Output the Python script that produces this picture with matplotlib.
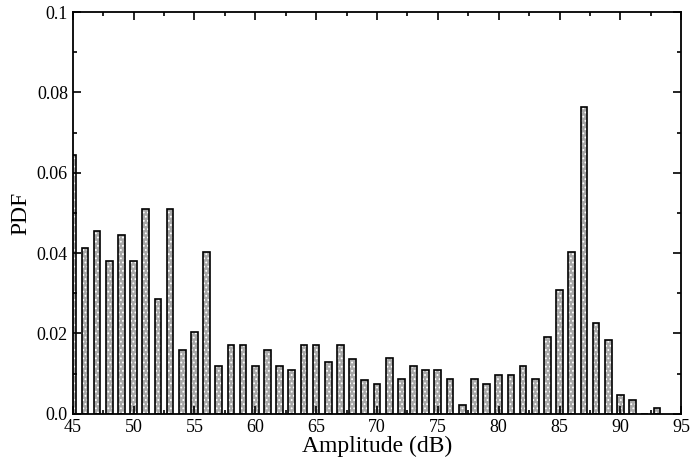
import matplotlib.pyplot as plt
from matplotlib.ticker import MultipleLocator

amplitude = list(range(45, 94))
pdf = [0.0644, 0.0413, 0.0454, 0.0381, 0.0446, 0.0381, 0.0509, 0.0286, 0.0509, 0.0160,
       0.0203, 0.0403, 0.0118, 0.0171, 0.0171, 0.0118, 0.0160, 0.0118, 0.0108, 0.0171,
       0.0171, 0.0130, 0.0171, 0.0137, 0.0085, 0.0075, 0.0138, 0.0086, 0.0118, 0.0109,
       0.0109, 0.0086, 0.0023, 0.0086, 0.0075, 0.0096, 0.0096, 0.0118, 0.0086, 0.0192,
       0.0307, 0.0403, 0.0763, 0.0225, 0.0183, 0.0046, 0.0035, 0.0, 0.0014]

plt.rcParams['font.family'] = ['Liberation Serif', 'DejaVu Serif']
plt.rcParams['hatch.linewidth'] = 0.8

fig = plt.figure(figsize=(6.93, 4.66), dpi=100)
ax = fig.add_axes([0.105, 0.112, 0.878, 0.862])

# dotted fill, then black outline on top
ax.bar(amplitude, pdf, width=0.55, color='#a8a8a8', hatch='....', edgecolor='white', linewidth=0)
ax.bar(amplitude, pdf, width=0.55, color='none', edgecolor='black', linewidth=1.2)

ax.set_xlim(45, 95)
ax.set_ylim(0, 0.1)
ax.xaxis.set_major_locator(MultipleLocator(5))
ax.xaxis.set_minor_locator(MultipleLocator(2.5))
ax.yaxis.set_major_locator(MultipleLocator(0.02))
ax.yaxis.set_minor_locator(MultipleLocator(0.01))
ax.set_yticklabels(['0.0', '0.02', '0.04', '0.06', '0.08', '0.1'])
ax.set_yticks([0, 0.02, 0.04, 0.06, 0.08, 0.1])
ax.set_yticklabels(['0.0', '0.02', '0.04', '0.06', '0.08', '0.1'])
ax.tick_params(which='both', direction='in', top=True, right=True, labelsize=13, width=1.2)
ax.tick_params(which='major', length=6)
ax.tick_params(which='minor', length=3)
for s in ax.spines.values():
    s.set_linewidth(1.3)

ax.set_xlabel('Amplitude (dB)', fontsize=17, labelpad=0)
ax.set_ylabel('PDF', fontsize=17)

fig.savefig('out.png', dpi=100)
